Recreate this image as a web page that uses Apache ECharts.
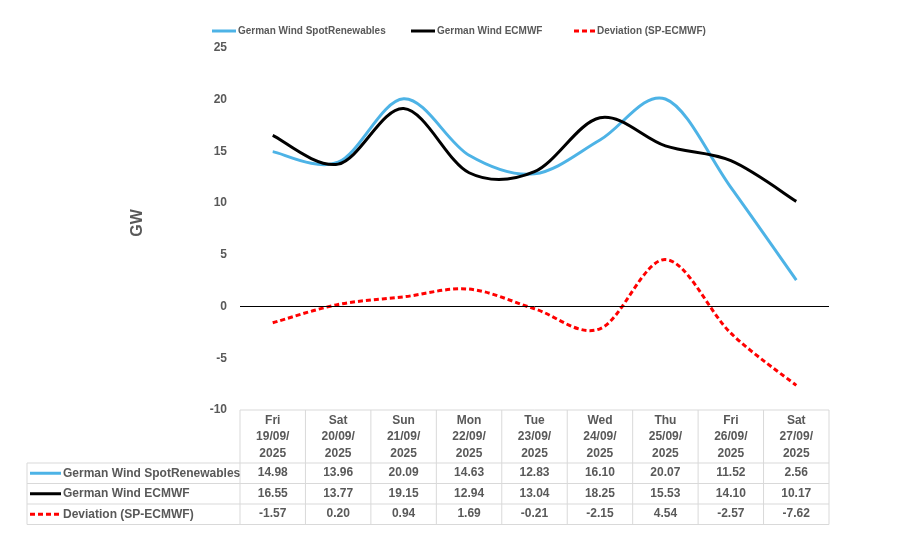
<!DOCTYPE html>
<html>
<head>
<meta charset="utf-8">
<script src="https://cdn.jsdelivr.net/npm/echarts@6/dist/echarts.min.js"></script>
<style>html,body{margin:0;padding:0;background:#fff;}#chart{width:906px;height:536px;}</style>
</head>
<body>
<div id="chart"></div>
<script>
const days = ['Fri', 'Sat', 'Sun', 'Mon', 'Tue', 'Wed', 'Thu', 'Fri', 'Sat'];
const dates = ['19/09/2025', '20/09/2025', '21/09/2025', '22/09/2025', '23/09/2025', '24/09/2025', '25/09/2025', '26/09/2025', '27/09/2025'];
const seriesNames = ['German Wind SpotRenewables', 'German Wind ECMWF', 'Deviation (SP-ECMWF)'];
const spotRenewables = [14.98, 13.96, 20.09, 14.63, 12.83, 16.10, 20.07, 11.52, 2.56];
const ecmwf = [16.55, 13.77, 19.15, 12.94, 13.04, 18.25, 15.53, 14.10, 10.17];
const deviation = [-1.57, 0.20, 0.94, 1.69, -0.21, -2.15, 4.54, -2.57, -7.62];
const yTicks = { min: -10, max: 25, interval: 5 };

const categories = days.map((d, i) => d + '\n' + dates[i].slice(0, 6) + '\n' + dates[i].slice(6));
const rows = [spotRenewables, ecmwf, deviation];

const TXT = '#595959';
const FONT = '"Liberation Sans", Arial, sans-serif';
const colors = ['#4DB3E6', '#000000', '#FF0000'];
const dashes = [null, null, [5, 3]];

// layout
const L = 240, R = 829, T = 48, B = 410;
const W = 906, H = 536;
const rowLines = [463, 483.5, 504, 524.5];
const tableLeft = 27;
const GRID = '#D9D9D9';

const colW = (R - L) / categories.length;
const graphics = [];
function hline(x1, x2, y) {
  graphics.push({ type: 'line', shape: { x1, y1: y, x2, y2: y }, style: { stroke: GRID, lineWidth: 1 }, silent: true });
}
function vline(x, y1, y2) {
  graphics.push({ type: 'line', shape: { x1: x, y1, x2: x, y2 }, style: { stroke: GRID, lineWidth: 1 }, silent: true });
}
hline(L, R, B);
rowLines.forEach(y => hline(tableLeft, R, y));
for (let i = 0; i <= categories.length; i++) vline(L + i * colW, B, rowLines[3]);
vline(tableLeft, rowLines[0], rowLines[3]);
seriesNames.forEach((n, k) => {
  const cy = (rowLines[k] + rowLines[k + 1]) / 2;
  graphics.push({ type: 'line', shape: { x1: 30, y1: cy, x2: 61, y2: cy },
    style: { stroke: colors[k], lineWidth: 3, lineDash: dashes[k] }, silent: true });
  graphics.push({ type: 'text', x: 63, y: cy, style: { text: n, fill: TXT, font: 'bold 12px ' + FONT, textVerticalAlign: 'middle', textAlign: 'left' }, silent: true });
});

const xAxes = [{
  type: 'category', data: categories, gridIndex: 0, position: 'bottom', boundaryGap: true,
  axisLine: { show: false }, axisTick: { show: false }, splitLine: { show: false },
  axisLabel: { interval: 0, color: TXT, fontFamily: FONT, fontWeight: 'bold', fontSize: 12, lineHeight: 16.5, margin: 2 }
}];
const offsets = [56, 76.5, 97];
rows.forEach((r, k) => {
  xAxes.push({
    type: 'category', data: categories, gridIndex: 0, position: 'bottom', offset: offsets[k], boundaryGap: true,
    axisLine: { show: false, onZero: false }, axisTick: { show: false }, splitLine: { show: false },
    axisLabel: { interval: 0, color: TXT, fontFamily: FONT, fontWeight: 'bold', fontSize: 12, lineHeight: 14, margin: 0,
      formatter: (v, idx) => r[idx].toFixed(2) }
  });
});

const icons = [
  'path://M0,0h24v3h-24z',
  'path://M0,0h24v3h-24z',
  'path://M0,0h5v3h-5zM8,0h5v3h-5zM16,0h5v3h-5z'
];
const legendLefts = [212, 411, 574];
const legends = seriesNames.map((n, k) => ({
  data: [{ name: n, icon: icons[k] }], left: legendLefts[k], top: 26, padding: 0,
  itemWidth: k === 2 ? 21 : 24, itemHeight: 14, itemGap: 2,
  textStyle: { color: TXT, fontFamily: FONT, fontWeight: 'bold', fontSize: 10, padding: [0, 0, 0, -3] },
  selectedMode: false
}));

// Excel-like smoothed line (Catmull-Rom bezier) built from axis coordinates
function makeRenderItem(values, k) {
  return function (params, api) {
    if (params.dataIndex !== 0) return null;
    const pts = values.map((v, i) => api.coord([i, v]));
    const n = pts.length;
    let d = 'M' + pts[0][0] + ',' + pts[0][1];
    for (let i = 0; i < n - 1; i++) {
      const p0 = pts[Math.max(i - 1, 0)], p1 = pts[i], p2 = pts[i + 1], p3 = pts[Math.min(i + 2, n - 1)];
      const c1x = p1[0] + (p2[0] - p0[0]) / 6, c1y = p1[1] + (p2[1] - p0[1]) / 6;
      const c2x = p2[0] - (p3[0] - p1[0]) / 6, c2y = p2[1] - (p3[1] - p1[1]) / 6;
      d += 'C' + c1x + ',' + c1y + ',' + c2x + ',' + c2y + ',' + p2[0] + ',' + p2[1];
    }
    return {
      type: 'path',
      shape: { pathData: d },
      style: { stroke: colors[k], fill: 'none', lineWidth: 3, lineDash: dashes[k], lineCap: 'butt', lineJoin: 'round' },
      silent: true
    };
  };
}

const series = rows.map((r, k) => ({
  name: seriesNames[k], type: 'custom', xAxisIndex: 0, yAxisIndex: 0,
  data: r.map((v, i) => [i, v]),
  encode: { x: 0, y: 1 },
  renderItem: makeRenderItem(r, k),
  itemStyle: { color: colors[k] },
  clip: false,
  z: 2 + k
}));
series.push({
  name: 'zero', type: 'line', data: [], xAxisIndex: 0, yAxisIndex: 0, symbol: 'none', silent: true, z: 1,
  markLine: {
    silent: true, symbol: 'none', label: { show: false }, animation: false,
    lineStyle: { color: '#000', width: 1, type: 'solid' },
    data: [{ yAxis: 0 }]
  }
});

const chart = echarts.init(document.getElementById('chart'), null, { renderer: 'canvas' });
chart.setOption({
  animation: false,
  backgroundColor: '#fff',
  grid: { left: L, right: W - R, top: T, bottom: H - B, containLabel: false },
  legend: legends,
  xAxis: xAxes,
  yAxis: {
    type: 'value', min: yTicks.min, max: yTicks.max, interval: yTicks.interval,
    name: 'GW', nameLocation: 'middle', nameGap: 94, nameRotate: 90,
    nameTextStyle: { color: TXT, fontFamily: FONT, fontWeight: 'bold', fontSize: 16, padding: [0, 0, 0, 12] },
    axisLine: { show: false }, axisTick: { show: false }, splitLine: { show: false },
    axisLabel: { color: TXT, fontFamily: FONT, fontWeight: 'bold', fontSize: 12, margin: 13 }
  },
  graphic: graphics,
  series: series
});
</script>
</body>
</html>
